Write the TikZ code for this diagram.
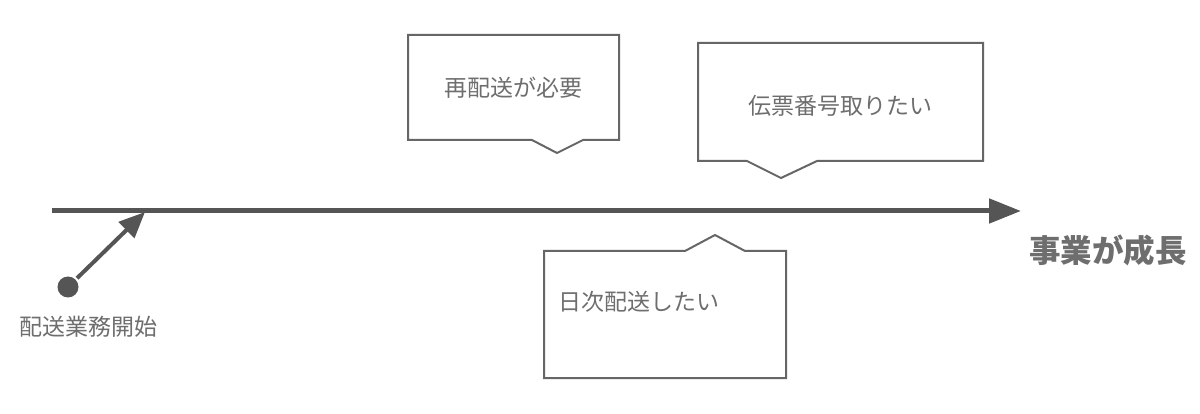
\documentclass[tikz,border=0pt]{standalone}
\usepackage{fontspec}
\newfontfamily\jp{Noto Sans CJK JP}
\usetikzlibrary{arrows.meta}
\definecolor{linegray}{HTML}{555555}
\definecolor{boxgray}{HTML}{666666}
\definecolor{textgray}{HTML}{6E6E6E}
\tikzset{
  callout/.style={draw=boxgray, line width=2pt, fill=white, line join=miter},
  ctext/.style={text=textgray, font=\jp\fontsize{23}{27}\selectfont, inner sep=0pt},
  timeline/.style={draw=linegray, line width=5pt, -{Triangle[length=32pt,width=24pt]}},
  startarrow/.style={draw=linegray, line width=4pt, shorten <=2pt, -{Triangle[length=26pt,width=22pt]}},
}
\begin{document}
\begin{tikzpicture}[x=1pt,y=-1pt]
\useasboundingbox[fill=white] (0,0) rectangle (1200,414);
% timeline
\coordinate (tl0) at (52,211);
\coordinate (tl1) at (1021,211);
\draw[timeline] (tl0) -- (tl1);
\node[text=textgray, font=\jp\bfseries\fontsize{31.5}{34}\selectfont, inner sep=0pt] (grow) at (1108,250) {事業が成長};
% start
\node[circle, fill=linegray, minimum size=21pt, inner sep=0pt] (start) at (68,287) {};
\coordinate (startend) at (145,212);
\draw[startarrow] (start) -- (startend);
\node[ctext, anchor=west] (startlbl) at (19,327) {配送業務開始};
% callout 1
\draw[callout] (408,35) -- (619,35) -- (619,140) -- (583,140) -- (557,153) -- (532,140) -- (408,140) -- cycle;
\node[ctext] (c1) at (513,88) {再配送が必要};
% callout 2
\draw[callout] (698,43) -- (983,43) -- (983,161) -- (817,161) -- (781,178) -- (747,161) -- (698,161) -- cycle;
\node[ctext] (c2) at (840,106) {伝票番号取りたい};
% callout 3
\draw[callout] (544,251) -- (685,251) -- (715,235) -- (745,251) -- (786,251) -- (786,378) -- (544,378) -- cycle;
\node[ctext, anchor=west] (c3) at (558,302) {日次配送したい};
\end{tikzpicture}
\end{document}
